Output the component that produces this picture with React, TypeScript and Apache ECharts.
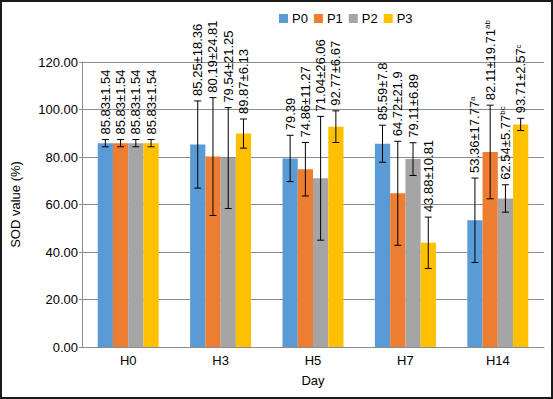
import React, { useEffect, useRef } from "react";
import * as echarts from "echarts";

const categories = ["H0", "H3", "H5", "H7", "H14"];
const seriesNames = ["P0", "P1", "P2", "P3"];
const colors = ["#5B9BD5", "#ED7D31", "#A5A5A5", "#FFC000"];

const p0 = [85.83, 85.25, 79.39, 85.59, 53.36];
const p1 = [85.83, 80.19, 74.86, 64.72, 82.11];
const p2 = [85.83, 79.54, 71.04, 79.11, 62.54];
const p3 = [85.83, 89.87, 92.77, 43.88, 93.71];

const e0 = [1.54, 18.36, 9.75, 7.8, 17.77];
const e1 = [1.54, 24.81, 11.27, 21.9, 19.71];
const e2 = [1.54, 21.25, 26.06, 6.89, 5.77];
const e3 = [1.54, 6.13, 6.67, 10.81, 2.57];

const l0 = ["85.83±1.54", "85.25±18.36", "79.39", "85.59±7.8", "53.36±17.77"];
const l1 = ["85.83±1.54", "80.19±24.81", "74.86±11.27", "64.72±21.9", "82.11±19.71"];
const l2 = ["85.83±1.54", "79.54±21.25", "71.04±26.06", "79.11±6.89", "62.54±5.77"];
const l3 = ["85.83±1.54", "89.87±6.13", "92.77±6.67", "43.88±10.81", "93.71±2.57"];

const s0 = ["", "", "", "", "a"];
const s1 = ["", "", "", "", "ab"];
const s2 = ["", "", "", "", "bc"];
const s3 = ["", "", "", "", "c"];

const yTicks = [0, 20, 40, 60, 80, 100, 120];

const values = [p0, p1, p2, p3];
const errors = [e0, e1, e2, e3];
const labels = [l0, l1, l2, l3];
const sups = [s0, s1, s2, s3];

const FONT = "'Liberation Sans', Arial, sans-serif";
const CAT_GAP = 0.34;

export default function App() {
  const ref = useRef<HTMLDivElement>(null);
  useEffect(() => {
    if (!ref.current) return;
    const chart = echarts.init(ref.current, undefined, { renderer: "svg" });

    const barSeries = seriesNames.map((name, i) => ({
      name,
      type: "bar",
      data: values[i],
      barGap: "0%",
      barCategoryGap: CAT_GAP * 100 + "%",
      itemStyle: { color: colors[i] },
      z: 2,
    }));

    const errSeries = seriesNames.map((name, i) => ({
      name: name + "_err",
      type: "custom",
      z: 5,
      data: values[i].map((v, k) => [k, v, errors[i][k]]),
      renderItem: (params: any, api: any) => {
        const ci = api.value(0);
        const v = api.value(1);
        const e = api.value(2);
        const c = api.coord([ci, v]);
        const band = api.size([1, 0])[0];
        const bw = (band * (1 - CAT_GAP)) / 4;
        const x = c[0] + (i - 1.5) * bw;
        const yTop = api.coord([ci, v + e])[1];
        const yBot = api.coord([ci, v - e])[1];
        const k = params.dataIndex;
        const lab = labels[i][k];
        const sup = sups[i][k];
        const text = sup ? `{m|${lab}}{s|${sup}}` : `{m|${lab}}`;
        const ls = { stroke: "#000", lineWidth: 1 };
        return {
          type: "group",
          children: [
            { type: "line", shape: { x1: x, y1: yTop, x2: x, y2: yBot }, style: ls },
            { type: "line", shape: { x1: x - 3.5, y1: yTop, x2: x + 3.5, y2: yTop }, style: ls },
            { type: "line", shape: { x1: x - 3.5, y1: yBot, x2: x + 3.5, y2: yBot }, style: ls },
            {
              type: "text",
              x: x,
              y: yTop - 5,
              rotation: Math.PI / 2,
              style: {
                text,
                align: "left",
                verticalAlign: "middle",
                fill: "#000",
                rich: {
                  m: { fontSize: 13, fontFamily: FONT, fill: "#000", color: "#000" },
                  s: { fontSize: 8, fontFamily: FONT, fill: "#000", color: "#000", verticalAlign: "top" },
                },
              },
            },
          ],
        };
      },
    }));

    chart.setOption({
      animation: false,
      textStyle: { fontFamily: FONT },
      graphic: [
        {
          type: "rect",
          shape: { x: 1, y: 1, width: 551, height: 397 },
          style: { fill: "none", stroke: "#1a1a1a", lineWidth: 2 },
          silent: true,
        },
      ],
      legend: {
        data: seriesNames,
        left: 274,
        top: 7,
        itemWidth: 9,
        itemHeight: 9,
        itemGap: 6,
        icon: "rect",
        textStyle: { fontSize: 13, color: "#000", fontFamily: FONT, padding: [0, 0, 0, -1] },
      },
      grid: { left: 82, right: 9, top: 62, bottom: 52, containLabel: false },
      xAxis: {
        type: "category",
        data: categories,
        name: "Day",
        nameLocation: "middle",
        nameGap: 27,
        nameTextStyle: { fontSize: 13, color: "#000", fontFamily: FONT, verticalAlign: "top" },
        axisLine: { lineStyle: { color: "#8c8c8c" } },
        axisTick: { show: false },
        axisLabel: { fontSize: 13, color: "#000", margin: 7, fontFamily: FONT },
      },
      yAxis: {
        type: "value",
        min: yTicks[0],
        max: yTicks[yTicks.length - 1],
        interval: 20,
        name: "SOD value (%)",
        nameLocation: "middle",
        nameRotate: 90,
        nameGap: 60,
        nameTextStyle: { fontSize: 13, color: "#000", fontFamily: FONT },
        axisLine: { show: true, lineStyle: { color: "#8c8c8c" } },
        axisTick: { show: true, length: 3, lineStyle: { color: "#8c8c8c" } },
        splitLine: { lineStyle: { color: "#8c8c8c" } },
        axisLabel: {
          fontSize: 13,
          color: "#000",
          margin: 4,
          fontFamily: FONT,
          formatter: (v: number) => v.toFixed(2),
        },
      },
      series: [...barSeries, ...errSeries],
    });
    return () => chart.dispose();
  }, []);
  return (
    <div
      ref={ref}
      style={{ position: "absolute", left: 0, top: 0, width: 553, height: 399, background: "#fff" }}
    />
  );
}
